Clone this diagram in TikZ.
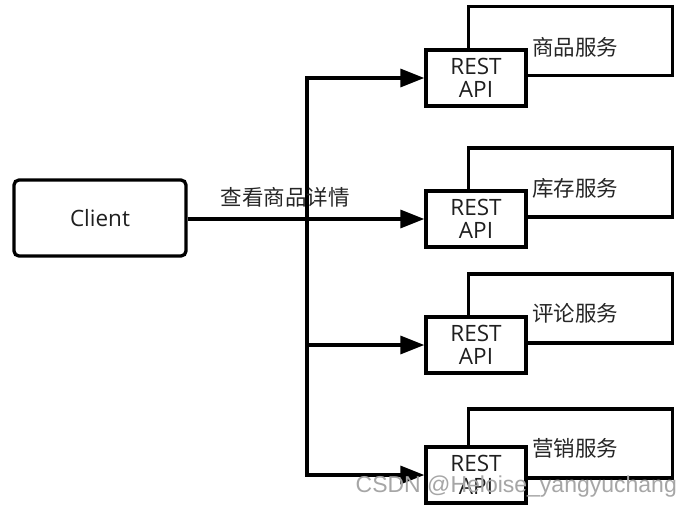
\documentclass[tikz,border=0pt]{standalone}
\usepackage{fontspec}
\setmainfont{Open Sans}
\newfontfamily\cjk{Noto Sans CJK SC}
\newfontfamily\wm{Liberation Sans}
\usetikzlibrary{arrows.meta}
\begin{document}
\begin{tikzpicture}[x=1pt,y=-1pt,
  line width=3.3pt,
  clientbox/.style={draw=black, fill=white, rounded corners=5pt, inner sep=0pt,
     minimum width=172pt, minimum height=76pt, font=\fontsize{22.5}{24}\selectfont, text=black!88},
  restbox/.style={draw=black, fill=white, inner sep=0pt, minimum width=100pt,
     minimum height=56pt, align=center, font=\fontsize{22.5}{23}\selectfont, text=black!88},
  svcbox/.style={draw=black, fill=white, inner sep=0pt, minimum width=204pt, minimum height=69pt},
  svctext/.style={font=\cjk\fontsize{21.5}{24}\selectfont, text=black!85, inner sep=0pt},
  arr/.style={-{Triangle[length=24pt,width=18pt]}}
]
\useasboundingbox (0,0) rectangle (691,507);
% client
\node[clientbox] (client) at (100,218) {Client};
% services
\node[svcbox] (svc1) at (570.5,41) {};
\node[svcbox] (svc2) at (570.5,182.5) {};
\node[svcbox] (svc3) at (570.5,308.5) {};
\node[svcbox] (svc4) at (570.5,443.5) {};
\node[svctext] (t1) at (575,47) {商品服务};
\node[svctext] (t2) at (575,188) {库存服务};
\node[svctext] (t3) at (575,313) {评论服务};
\node[svctext] (t4) at (575,448) {营销服务};
% rest APIs
\node[restbox] (rest1) at (476,78) {REST\\API};
\node[restbox] (rest2) at (476,219) {REST\\API};
\node[restbox] (rest3) at (476,345) {REST\\API};
\node[restbox] (rest4) at (476,475) {REST\\API};
% connectors
\coordinate (j) at (307,219);
\draw[arr] (client.east |- rest2.west) -- (rest2.west);
\draw[arr] (j) |- (rest1.west);
\draw[arr] (j) |- (rest3.west);
\draw[arr] (j) |- (rest4.west);
\node[font=\cjk\fontsize{21.5}{24}\selectfont, text=black!85, inner sep=0pt] (lbl) at (285,197) {查看商品详情};
% watermark
\node[font=\wm\fontsize{23}{24}\selectfont, text=black!35, anchor=west, inner sep=0pt] (wmk) at (354,487) {CSDN @Heloise\_yangyuchang};
\end{tikzpicture}
\end{document}
